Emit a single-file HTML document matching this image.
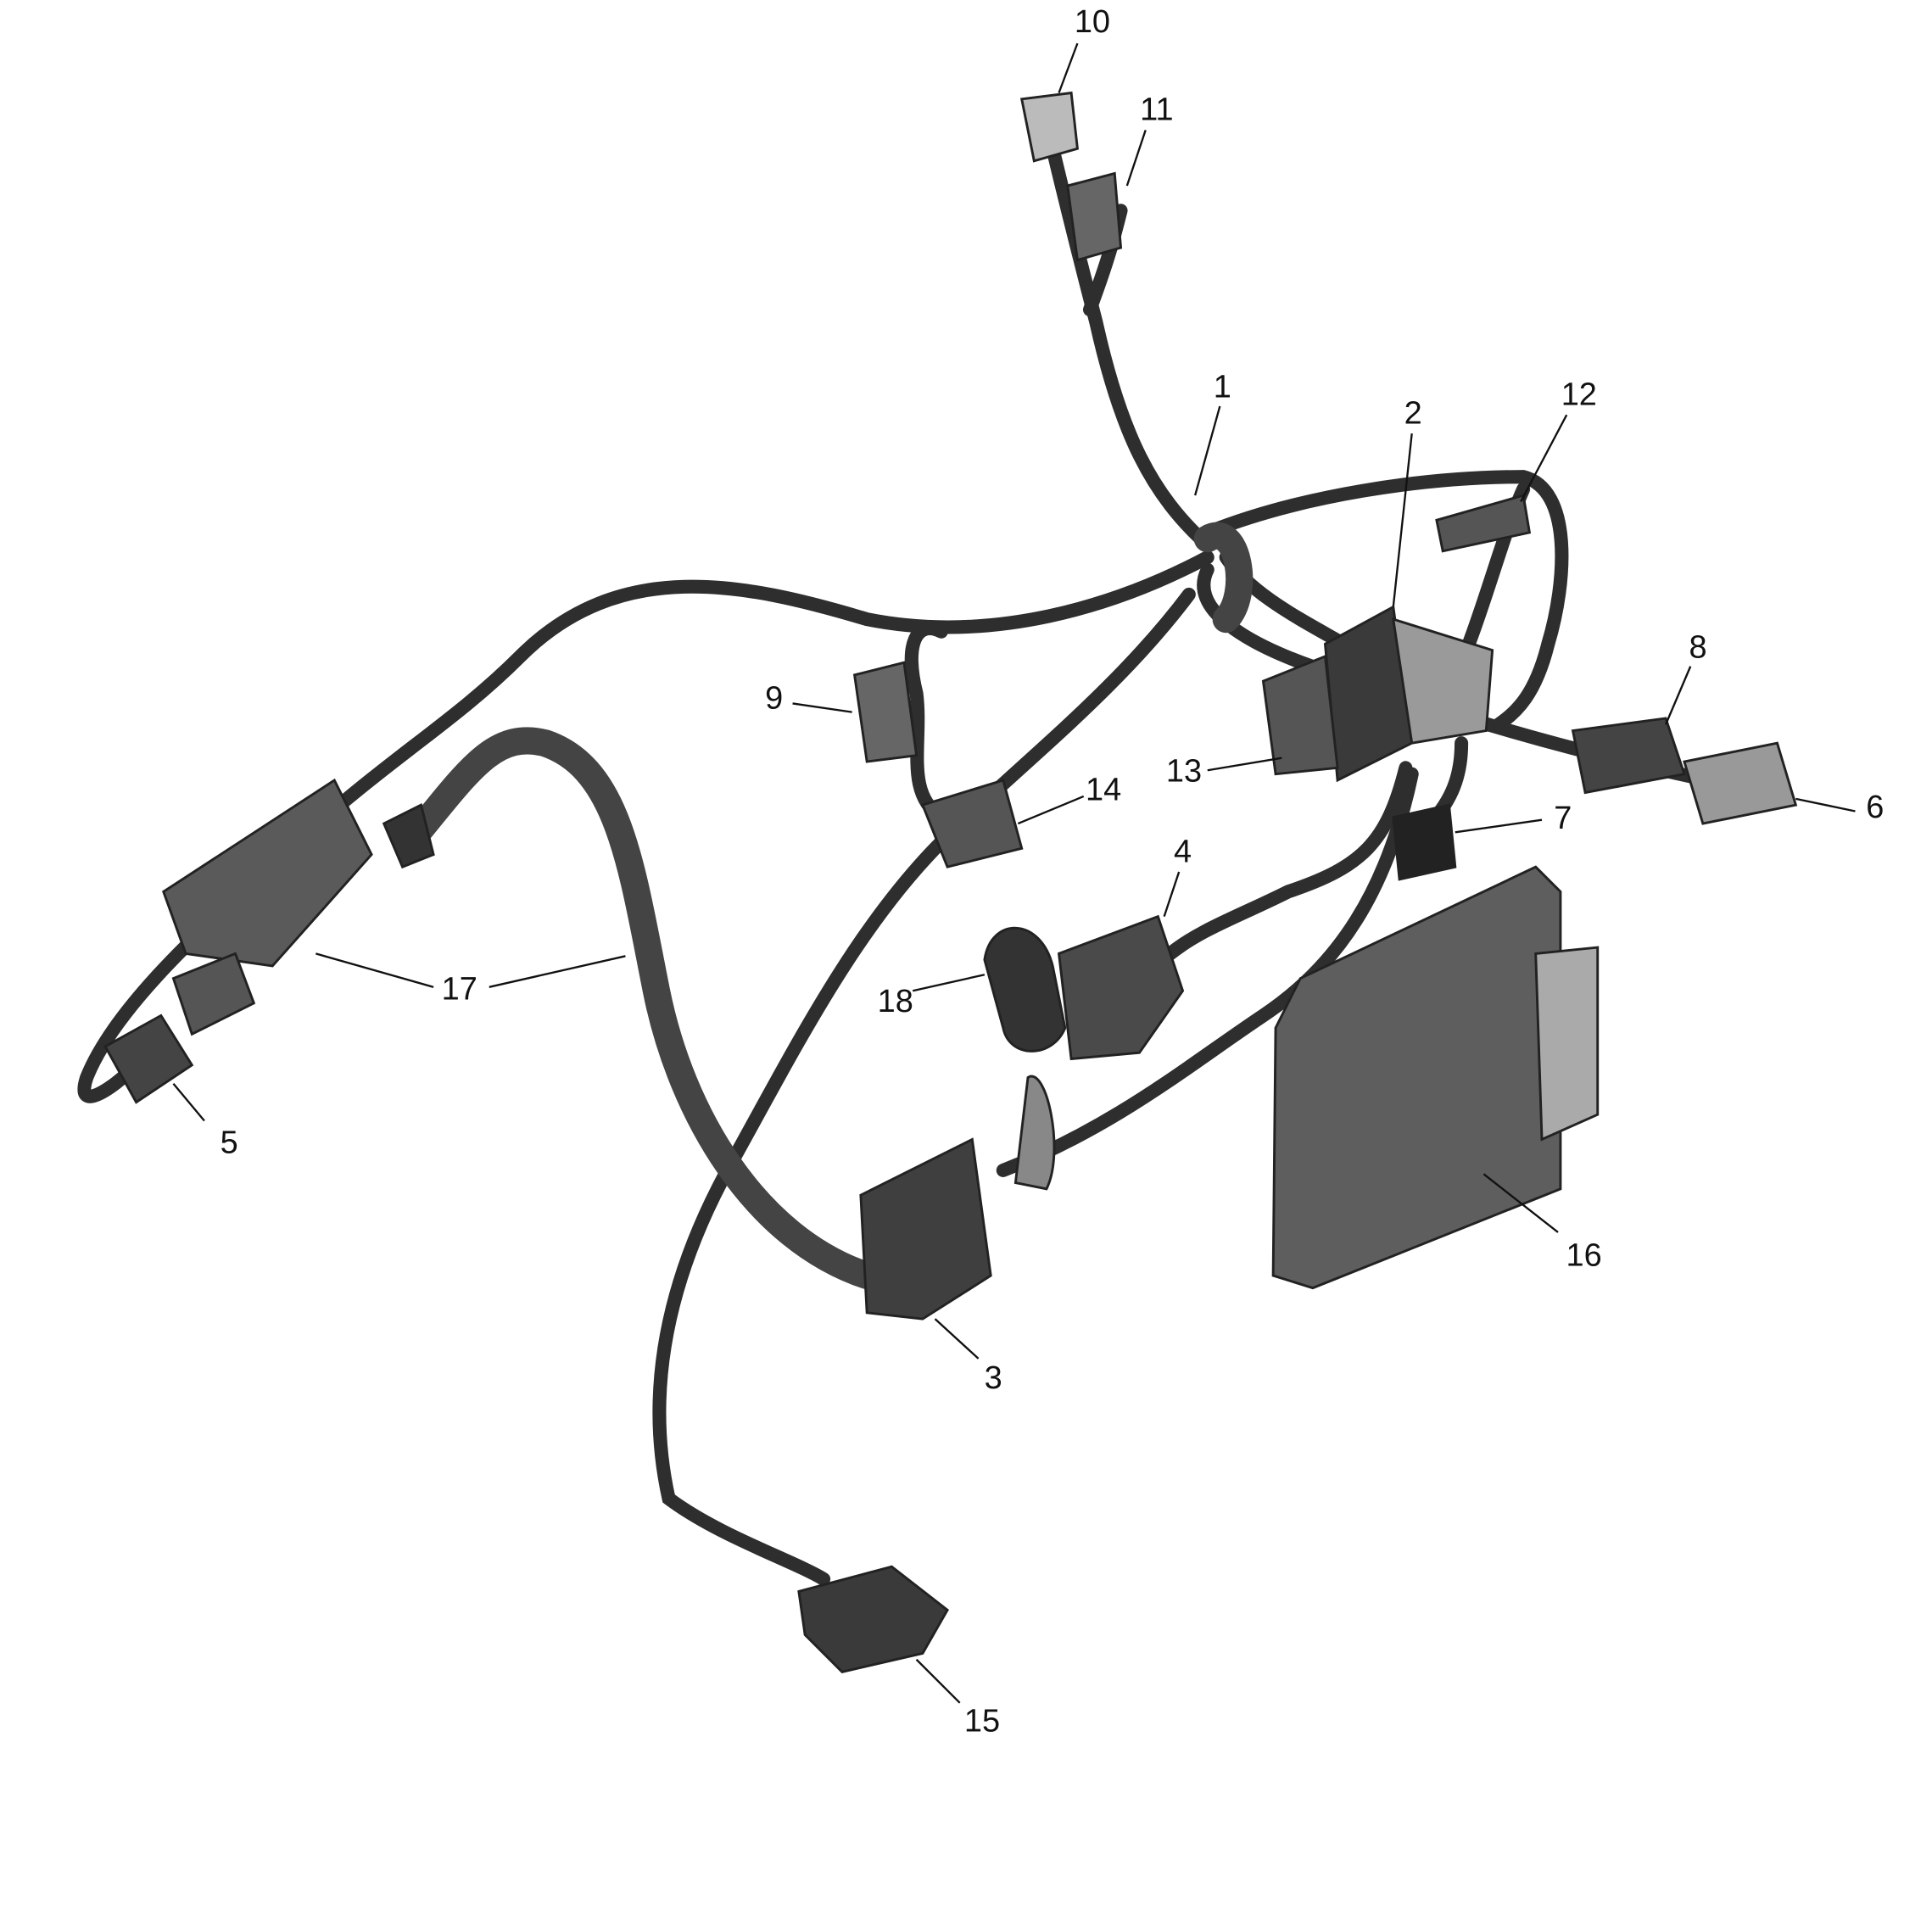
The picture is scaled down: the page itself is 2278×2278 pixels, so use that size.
<!DOCTYPE html>
<html><head><meta charset="utf-8"><style>
html,body{margin:0;padding:0;background:#fff}
svg{display:block}
text{font-family:"Liberation Sans",sans-serif;font-size:26px;fill:#111}
</style></head><body>
<svg width="2278" height="2278" viewBox="0 0 1560 1560" xmlns="http://www.w3.org/2000/svg">
<g fill="none" stroke="#2e2e2e" stroke-linecap="round" stroke-width="11">
<path d="M975,440 C930,400 905,350 885,260 C872,210 862,170 850,120"/>
<path d="M880,250 C895,210 900,190 905,170"/>
<path d="M975,430 C1050,400 1150,385 1230,385 C1270,395 1265,470 1250,520 C1240,560 1225,575 1210,585"/>
<path d="M1230,395 C1210,440 1200,490 1170,560"/>
<path d="M975,450 C900,490 800,520 700,500 C600,470 500,450 420,530 C360,590 300,620 220,700 C150,760 90,820 70,870 C60,900 90,880 110,860"/>
<path d="M760,510 C740,500 730,520 740,560 C745,600 730,640 760,660"/>
<path d="M975,460 C960,490 1000,520 1080,545"/>
<path d="M990,450 C1010,480 1050,500 1085,520"/>
<path d="M960,480 C900,560 820,620 760,680 C690,750 640,850 590,940 C540,1030 520,1120 540,1210 C580,1240 640,1260 665,1275"/>
<path d="M1135,620 C1120,680 1100,700 1040,720 C1000,740 970,750 945,770"/>
<path d="M1140,625 C1120,720 1080,780 1020,820 C960,860 900,910 810,945"/>
<path d="M1185,580 C1250,600 1310,615 1370,628"/>
<path d="M1180,600 C1180,630 1170,650 1150,670"/>
</g>
<g fill="none" stroke="#444" stroke-width="22" stroke-linecap="round">
<path d="M335,675 C380,620 400,590 440,600 C500,620 510,700 530,800 C550,900 610,1000 700,1030"/>
<path d="M975,435 C1000,420 1010,480 990,500"/>
</g>
<g stroke="#222" stroke-width="2">
<path d="M132,720 L270,630 L300,690 L220,780 L150,770 Z" fill="#5a5a5a"/>
<path d="M140,790 L190,770 L205,810 L155,835 Z" fill="#555"/>
<path d="M85,845 L130,820 L155,860 L110,890 Z" fill="#444"/>
<path d="M310,665 L340,650 L350,690 L325,700 Z" fill="#333"/>
<path d="M825,80 L865,75 L870,120 L835,130 Z" fill="#bbb"/>
<path d="M862,150 L900,140 L905,200 L870,210 Z" fill="#666"/>
<path d="M1160,420 L1230,400 L1235,430 L1165,445 Z" fill="#555"/>
<path d="M1070,520 L1125,490 L1140,600 L1080,630 Z" fill="#3a3a3a"/>
<path d="M1125,500 L1205,525 L1200,590 L1140,600 Z" fill="#9a9a9a"/>
<path d="M1020,550 L1070,530 L1080,620 L1030,625 Z" fill="#555"/>
<path d="M690,545 L730,535 L740,610 L700,615 Z" fill="#666"/>
<path d="M745,650 L810,630 L825,685 L765,700 Z" fill="#555"/>
<path d="M1270,590 L1345,580 L1360,625 L1280,640 Z" fill="#444"/>
<path d="M1360,615 L1435,600 L1450,650 L1375,665 Z" fill="#999"/>
<path d="M1125,660 L1170,650 L1175,700 L1130,710 Z" fill="#222"/>
<path d="M795,775 C800,740 840,740 850,780 L860,830 C850,855 815,855 810,830 Z" fill="#333"/>
<path d="M855,770 L935,740 L955,800 L920,850 L865,855 Z" fill="#4a4a4a"/>
<path d="M830,870 C845,860 860,930 845,960 L820,955 Z" fill="#888"/>
<path d="M695,965 L785,920 L800,1030 L745,1065 L700,1060 Z" fill="#3f3f3f"/>
<path d="M645,1285 L720,1265 L765,1300 L745,1335 L680,1350 L650,1320 Z" fill="#3a3a3a"/>
<path d="M1030,830 L1050,790 L1240,700 L1260,720 L1260,960 L1060,1040 L1028,1030 Z" fill="#5e5e5e"/>
<path d="M1240,770 L1290,765 L1290,900 L1245,920 Z" fill="#aaa"/>
</g>
<g stroke="#111" stroke-width="1.6">
<line x1="870" y1="35" x2="855" y2="75"/>
<line x1="925" y1="105" x2="910" y2="150"/>
<line x1="985" y1="328" x2="965" y2="400"/>
<line x1="1140" y1="350" x2="1125" y2="490"/>
<line x1="1265" y1="335" x2="1228" y2="405"/>
<line x1="1365" y1="538" x2="1345" y2="585"/>
<line x1="640" y1="568" x2="688" y2="575"/>
<line x1="975" y1="622" x2="1035" y2="612"/>
<line x1="875" y1="643" x2="822" y2="665"/>
<line x1="1498" y1="655" x2="1450" y2="645"/>
<line x1="1245" y1="662" x2="1175" y2="672"/>
<line x1="952" y1="704" x2="940" y2="740"/>
<line x1="350" y1="797" x2="255" y2="770"/>
<line x1="395" y1="797" x2="505" y2="772"/>
<line x1="737" y1="800" x2="795" y2="787"/>
<line x1="165" y1="905" x2="140" y2="875"/>
<line x1="1258" y1="995" x2="1198" y2="948"/>
<line x1="790" y1="1097" x2="755" y2="1065"/>
<line x1="775" y1="1375" x2="740" y2="1340"/>
</g>
<g text-anchor="middle">
<text x="882" y="26">10</text><text x="934" y="97">11</text><text x="987" y="321">1</text>
<text x="1141" y="342">2</text><text x="1275" y="327">12</text><text x="1371" y="531">8</text>
<text x="625" y="572">9</text><text x="956" y="631">13</text><text x="891" y="646">14</text>
<text x="1514" y="660">6</text><text x="1262" y="669">7</text><text x="955" y="696">4</text>
<text x="371" y="807">17</text><text x="723" y="817">18</text><text x="185" y="931">5</text>
<text x="1279" y="1022">16</text><text x="802" y="1121">3</text><text x="793" y="1398">15</text>
</g>
</svg>
</body></html>
